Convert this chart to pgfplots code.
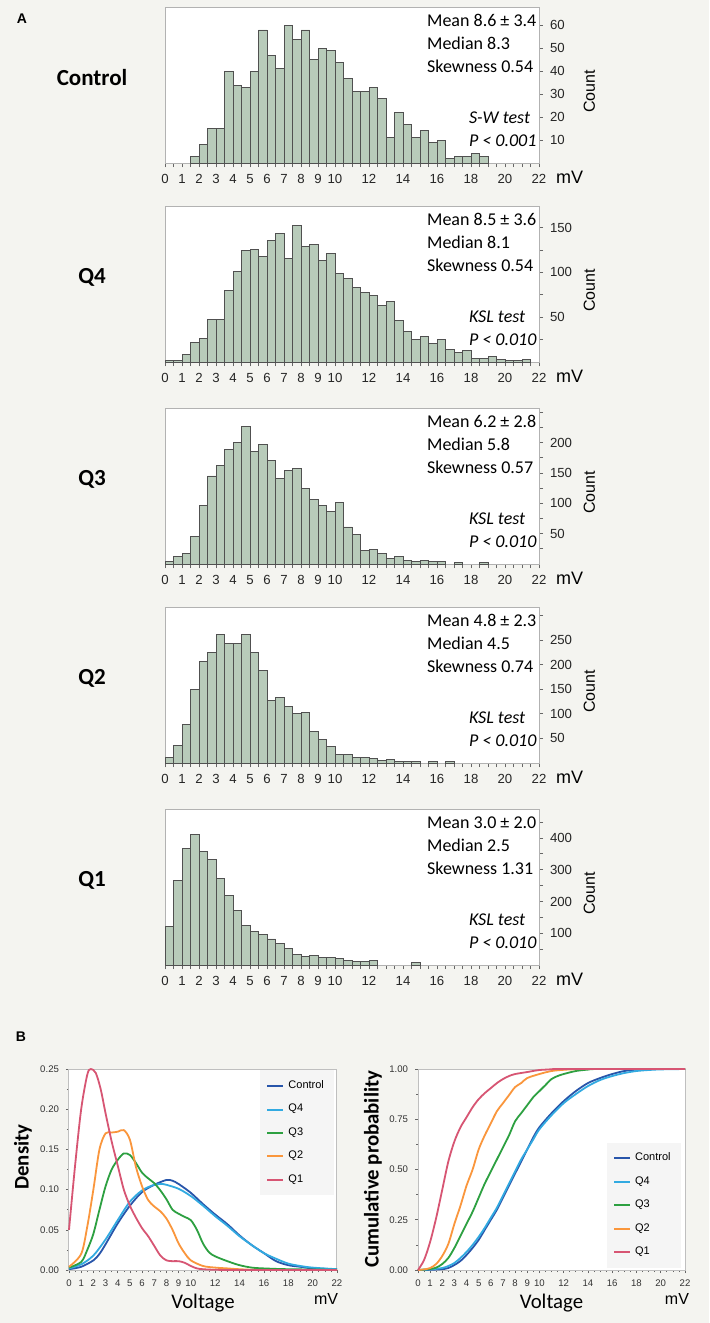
\documentclass[border=0pt]{standalone}
\usepackage{pgfplots}
\pgfplotsset{compat=1.18}
\usepackage{fontspec}
\setmainfont{Carlito}
\newfontfamily\arial{Liberation Sans}
\definecolor{bgcol}{RGB}{244,244,240}
\definecolor{barfill}{RGB}{184,203,186}
\definecolor{baredge}{RGB}{80,80,80}
\definecolor{ctrl}{RGB}{40,85,170}
\definecolor{qfour}{RGB}{50,170,225}
\definecolor{qthree}{RGB}{45,160,65}
\definecolor{qtwo}{RGB}{250,150,60}
\definecolor{qone}{RGB}{215,85,115}
\newcommand{\statfont}{\fontsize{9}{10}\selectfont}
\pgfplotsset{
 hist/.style={
  scale only axis, width=187pt, height=78pt, anchor=south west,
  xmin=0, xmax=22, ymin=0,
  axis background/.style={fill=white},
  axis line style={draw=gray!60, line width=0.5pt},
  xtick={0,1,...,10,12,14,...,22}, minor xtick={0,0.5,...,22},
  xtick pos=bottom, ytick pos=right, yticklabel pos=right,
  tick align=outside, major tick length=2pt, minor tick length=2pt,
  tick style={draw=gray!80!black, line width=0.4pt},
  ticklabel style={font=\arial\fontsize{6.6}{7}\selectfont, text=black!85},
  /pgf/number format/assume math mode=true,
  ybar, bar width=0.5, clip=false,
 },
 bars/.style={fill=barfill, draw=baredge, line width=0.45pt},
 bpanel/.style={
  scale only axis, width=134pt, height=100.5pt, anchor=south west,
  xmin=0, xmax=22, ymin=0, clip=false,
  axis background/.style={fill=white},
  axis line style={draw=gray!50, line width=0.5pt},
  xtick={0,1,...,10,12,14,...,22}, minor xtick={0,0.5,...,22},
  xtick pos=bottom, ytick pos=left,
  tick align=outside, major tick length=1.5pt, minor tick length=1pt,
  tick style={draw=gray!80!black, line width=0.3pt},
  ticklabel style={font=\arial\fontsize{4.8}{5}\selectfont, text=black!80},
  /pgf/number format/assume math mode=true,
  yticklabel style={/pgf/number format/.cd, fixed, fixed zerofill, precision=2},
  legend style={fill=gray!8, draw=none, font=\arial\fontsize{5.5}{6}\selectfont,
    row sep=2.4pt, inner xsep=3pt, inner ysep=3pt},
  legend cell align=left,
  legend image code/.code={\draw[#1, line width=1pt] (0pt,0pt) -- (8pt,0pt);},
  every axis plot/.append style={line width=0.9pt, smooth, mark=none},
 },
}
\begin{document}
\begin{tikzpicture}
\fill[bgcol] (0,0) rectangle (354.5pt,-661.5pt);
\path[use as bounding box] (0,0) rectangle (354.5pt,-661.5pt);
\node[font=\arial\bfseries\fontsize{7}{8}\selectfont] at (11pt,-9.5pt) {A};
\node[font=\arial\bfseries\fontsize{7}{8}\selectfont] at (10.5pt,-518.5pt) {B};

% ---------- Control ----------
\begin{axis}[hist, at={(82.5pt,-81.5pt)}, ymax=68, ytick={10,20,...,60}]
\addplot[bars] coordinates {(1.75,3) (2.25,8) (2.75,15) (3.25,15) (3.75,40) (4.25,34) (4.75,33) (5.25,40) (5.75,58) (6.25,47) (6.75,41) (7.25,60) (7.75,54) (8.25,58) (8.75,45) (9.25,50) (9.75,49) (10.25,44) (10.75,37) (11.25,31) (11.75,31) (12.25,33) (12.75,28) (13.25,11) (13.75,22) (14.25,17) (14.75,11) (15.25,14) (15.75,9) (16.25,10) (16.75,2) (17.25,3) (17.75,3) (18.25,4) (18.75,3)};
\node[anchor=west, font=\statfont] at (axis description cs:0.682,0.914) {Mean 8.6 ± 3.4};
\node[anchor=west, font=\statfont] at (axis description cs:0.682,0.769) {Median 8.3};
\node[anchor=west, font=\statfont] at (axis description cs:0.682,0.622) {Skewness 0.54};
\node[anchor=west, font=\statfont\itshape] at (axis description cs:0.794,0.288) {S-W test};
\node[anchor=west, font=\statfont\itshape] at (axis description cs:0.794,0.141) {P < 0.001};
\node[font=\bfseries\fontsize{11.5}{12}\selectfont] at (axis description cs:-0.195,0.545) {Control};
\node[rotate=90, font=\arial\fontsize{8}{9}\selectfont] at (axis description cs:1.135,0.46) {Count};
\node[anchor=west, font=\arial\fontsize{9}{10}\selectfont] at (axis description cs:1.027,-0.09) {mV};
\end{axis}

% ---------- Q4 ----------
\begin{axis}[hist, at={(82.5pt,-181pt)}, ymax=174, ytick={50,100,150}, minor ytick={25,75,125}]
\addplot[bars] coordinates {(0.25,2) (0.75,2) (1.25,8) (1.75,22) (2.25,26) (2.75,47) (3.25,47) (3.75,80) (4.25,101) (4.75,124) (5.25,125) (5.75,118) (6.25,136) (6.75,143) (7.25,116) (7.75,152) (8.25,129) (8.75,131) (9.25,113) (9.75,121) (10.25,99) (10.75,93) (11.25,83) (11.75,78) (12.25,74) (12.75,63) (13.25,67) (13.75,46) (14.25,34) (14.75,25) (15.25,28) (15.75,21) (16.25,25) (16.75,14) (17.25,11) (17.75,13) (18.25,4) (18.75,4) (19.25,6) (19.75,3) (20.25,2) (20.75,2) (21.25,3)};
\node[anchor=west, font=\statfont] at (axis description cs:0.682,0.914) {Mean 8.5 ± 3.6};
\node[anchor=west, font=\statfont] at (axis description cs:0.682,0.769) {Median 8.1};
\node[anchor=west, font=\statfont] at (axis description cs:0.682,0.622) {Skewness 0.54};
\node[anchor=west, font=\statfont\itshape] at (axis description cs:0.794,0.288) {KSL test};
\node[anchor=west, font=\statfont\itshape] at (axis description cs:0.794,0.141) {P < 0.010};
\node[font=\bfseries\fontsize{11.5}{12}\selectfont] at (axis description cs:-0.195,0.545) {Q4};
\node[rotate=90, font=\arial\fontsize{8}{9}\selectfont] at (axis description cs:1.135,0.46) {Count};
\node[anchor=west, font=\arial\fontsize{9}{10}\selectfont] at (axis description cs:1.027,-0.09) {mV};
\end{axis}

% ---------- Q3 ----------
\begin{axis}[hist, at={(82.5pt,-282pt)}, ymax=257, ytick={50,100,150,200}, minor ytick={25,75,125,175,225,250}]
\addplot[bars] coordinates {(0.25,4) (0.75,13) (1.25,18) (1.75,46) (2.25,96) (2.75,145) (3.25,163) (3.75,188) (4.25,200) (4.75,226) (5.25,186) (5.75,197) (6.25,171) (6.75,141) (7.25,154) (7.75,157) (8.25,124) (8.75,107) (9.25,96) (9.75,86) (10.25,101) (10.75,61) (11.25,49) (11.75,22) (12.25,24) (12.75,18) (13.25,9) (13.75,12) (14.25,6) (14.75,4) (15.25,6) (15.75,4) (16.25,4) (17.25,2) (18.75,2)};
\node[anchor=west, font=\statfont] at (axis description cs:0.682,0.914) {Mean 6.2 ± 2.8};
\node[anchor=west, font=\statfont] at (axis description cs:0.682,0.769) {Median 5.8};
\node[anchor=west, font=\statfont] at (axis description cs:0.682,0.622) {Skewness 0.57};
\node[anchor=west, font=\statfont\itshape] at (axis description cs:0.794,0.288) {KSL test};
\node[anchor=west, font=\statfont\itshape] at (axis description cs:0.794,0.141) {P < 0.010};
\node[font=\bfseries\fontsize{11.5}{12}\selectfont] at (axis description cs:-0.195,0.545) {Q3};
\node[rotate=90, font=\arial\fontsize{8}{9}\selectfont] at (axis description cs:1.135,0.46) {Count};
\node[anchor=west, font=\arial\fontsize{9}{10}\selectfont] at (axis description cs:1.027,-0.09) {mV};
\end{axis}

% ---------- Q2 ----------
\begin{axis}[hist, at={(82.5pt,-381.5pt)}, ymax=317, ytick={50,100,...,250}, minor ytick={300}]
\addplot[bars] coordinates {(0.25,12) (0.75,35) (1.25,79) (1.75,150) (2.25,207) (2.75,224) (3.25,262) (3.75,243) (4.25,243) (4.75,262) (5.25,224) (5.75,188) (6.25,127) (6.75,133) (7.25,114) (7.75,100) (8.25,103) (8.75,64) (9.25,47) (9.75,34) (10.25,18) (10.75,18) (11.25,12) (11.75,11) (12.25,9) (12.75,5) (13.25,7) (13.75,4) (14.25,3) (14.75,3) (15.75,3) (16.75,4)};
\node[anchor=west, font=\statfont] at (axis description cs:0.682,0.914) {Mean 4.8 ± 2.3};
\node[anchor=west, font=\statfont] at (axis description cs:0.682,0.769) {Median 4.5};
\node[anchor=west, font=\statfont] at (axis description cs:0.682,0.622) {Skewness 0.74};
\node[anchor=west, font=\statfont\itshape] at (axis description cs:0.794,0.288) {KSL test};
\node[anchor=west, font=\statfont\itshape] at (axis description cs:0.794,0.141) {P < 0.010};
\node[font=\bfseries\fontsize{11.5}{12}\selectfont] at (axis description cs:-0.195,0.545) {Q2};
\node[rotate=90, font=\arial\fontsize{8}{9}\selectfont] at (axis description cs:1.135,0.46) {Count};
\node[anchor=west, font=\arial\fontsize{9}{10}\selectfont] at (axis description cs:1.027,-0.09) {mV};
\end{axis}

% ---------- Q1 ----------
\begin{axis}[hist, at={(82.5pt,-482.5pt)}, ymax=491, ytick={100,200,300,400}, minor ytick={50,150,250,350,450}]
\addplot[bars] coordinates {(0.25,120) (0.75,265) (1.25,368) (1.75,411) (2.25,358) (2.75,333) (3.25,273) (3.75,218) (4.25,173) (4.75,125) (5.25,107) (5.75,95) (6.25,82) (6.75,69) (7.25,53) (7.75,34) (8.25,27) (8.75,30) (9.25,23) (9.75,23) (10.25,20) (10.75,15) (11.25,10) (11.75,10) (12.25,15) (14.75,9)};
\node[anchor=west, font=\statfont] at (axis description cs:0.682,0.914) {Mean 3.0 ± 2.0};
\node[anchor=west, font=\statfont] at (axis description cs:0.682,0.769) {Median 2.5};
\node[anchor=west, font=\statfont] at (axis description cs:0.682,0.622) {Skewness 1.31};
\node[anchor=west, font=\statfont\itshape] at (axis description cs:0.794,0.288) {KSL test};
\node[anchor=west, font=\statfont\itshape] at (axis description cs:0.794,0.141) {P < 0.010};
\node[font=\bfseries\fontsize{11.5}{12}\selectfont] at (axis description cs:-0.195,0.545) {Q1};
\node[rotate=90, font=\arial\fontsize{8}{9}\selectfont] at (axis description cs:1.135,0.46) {Count};
\node[anchor=west, font=\arial\fontsize{9}{10}\selectfont] at (axis description cs:1.027,-0.09) {mV};
\end{axis}

% ---------- Density ----------
\begin{axis}[bpanel, at={(34.5pt,-635pt)}, ymax=0.25, ytick={0,0.05,...,0.25}, minor y tick num=1,
  legend style={at={(0.99,0.995)}, anchor=north east}]
\addplot[ctrl] coordinates {(0,0.001) (1,0.004) (2,0.012) (2.5,0.02) (3,0.032) (4,0.058) (5,0.08) (6,0.097) (7,0.106) (8,0.112) (8.5,0.111) (9,0.107) (10,0.096) (11,0.082) (12,0.069) (13,0.057) (14,0.043) (15,0.031) (16,0.021) (17,0.011) (18,0.006) (19,0.004) (20,0.002) (22,0.001)};
\addlegendentry{Control}
\addplot[qfour] coordinates {(0,0.002) (1,0.007) (2,0.018) (3,0.038) (4,0.062) (5,0.085) (6,0.099) (7,0.106) (7.7,0.107) (8,0.106) (9,0.101) (10,0.092) (11,0.08) (12,0.067) (13,0.055) (14,0.042) (15,0.031) (16,0.021) (17,0.014) (18,0.008) (19,0.005) (20,0.003) (22,0.001)};
\addlegendentry{Q4}
\addplot[qthree] coordinates {(0,0.003) (1,0.01) (1.5,0.025) (2,0.045) (2.5,0.075) (3,0.104) (3.5,0.125) (4,0.137) (4.5,0.145) (5,0.143) (5.5,0.133) (6,0.121) (6.5,0.114) (7,0.108) (7.5,0.099) (8,0.088) (8.5,0.075) (9,0.07) (9.5,0.066) (10,0.062) (10.5,0.05) (11,0.033) (11.5,0.022) (12,0.017) (13,0.011) (14,0.006) (15,0.003) (16,0.002) (18,0.001) (22,0.0003)};
\addlegendentry{Q3}
\addplot[qtwo] coordinates {(0,0.004) (1,0.02) (1.5,0.054) (2,0.10) (2.5,0.15) (3,0.17) (3.5,0.171) (4,0.172) (4.5,0.174) (5,0.162) (5.5,0.128) (6,0.104) (6.5,0.087) (7,0.079) (7.5,0.073) (8,0.064) (8.5,0.05) (9,0.033) (9.5,0.021) (10,0.012) (11,0.005) (12,0.003) (13,0.002) (14,0.001) (16,0) (22,0)};
\addlegendentry{Q2}
\addplot[qone] coordinates {(0,0.05) (0.5,0.13) (1,0.2) (1.5,0.243) (1.8,0.25) (2.2,0.245) (2.6,0.225) (3,0.195) (3.5,0.16) (4,0.13) (4.5,0.1) (5,0.08) (5.5,0.065) (6,0.052) (6.5,0.042) (7,0.03) (7.5,0.018) (8,0.012) (8.5,0.011) (9,0.011) (9.5,0.009) (10,0.005) (10.5,0.002) (11,0.001) (12,0.0003) (14,0) (22,0)};
\addlegendentry{Q1}
\node[rotate=90, font=\bfseries\fontsize{10.4}{11}\selectfont] at (axis description cs:-0.172,0.562) {Density};
\node[font=\fontsize{10.4}{11}\selectfont] at (axis description cs:0.5,-0.165) {Voltage};
\node[font=\arial\fontsize{8}{9}\selectfont] at (axis description cs:0.959,-0.144) {mV};
\end{axis}

% ---------- Cumulative ----------
\begin{axis}[bpanel, at={(209pt,-635pt)}, width=133.5pt, ymax=1, ytick={0,0.25,0.5,0.75,1}, minor y tick num=1,
  legend style={at={(0.985,0.01)}, anchor=south east}]
\addplot[ctrl] coordinates {(0,0) (1,0.001) (2,0.004) (2.5,0.01) (3,0.025) (3.5,0.045) (4,0.075) (4.5,0.11) (5,0.15) (5.5,0.2) (6,0.25) (6.5,0.3) (7,0.36) (7.5,0.42) (8,0.48) (8.5,0.54) (9,0.6) (9.5,0.66) (10,0.71) (11,0.78) (12,0.84) (13,0.89) (14,0.93) (15,0.955) (16,0.975) (17,0.99) (18,0.997) (19,1) (22,1)};
\addlegendentry{Control}
\addplot[qfour] coordinates {(0,0) (1,0.003) (2,0.01) (2.5,0.02) (3,0.035) (3.5,0.06) (4,0.09) (4.5,0.125) (5,0.165) (5.5,0.21) (6,0.26) (6.5,0.31) (7,0.37) (7.5,0.43) (8,0.49) (8.5,0.55) (9,0.6) (9.5,0.65) (10,0.7) (11,0.77) (12,0.83) (13,0.875) (14,0.915) (15,0.945) (16,0.965) (17,0.98) (18,0.99) (19,0.995) (20,0.998) (22,1)};
\addlegendentry{Q4}
\addplot[qthree] coordinates {(0,0) (1,0.005) (1.5,0.012) (2,0.03) (2.5,0.06) (3,0.11) (3.5,0.17) (4,0.23) (4.5,0.29) (5,0.36) (5.5,0.43) (6,0.49) (6.5,0.55) (7,0.61) (7.5,0.67) (8,0.74) (8.5,0.78) (9,0.82) (9.5,0.86) (10,0.89) (10.5,0.92) (11,0.95) (11.5,0.965) (12,0.975) (13,0.99) (14,0.997) (15,1) (22,1)};
\addlegendentry{Q3}
\addplot[qtwo] coordinates {(0,0) (0.5,0.003) (1,0.01) (1.5,0.03) (2,0.07) (2.5,0.13) (3,0.23) (3.5,0.32) (4,0.42) (4.5,0.5) (5,0.6) (5.5,0.67) (6,0.73) (6.5,0.79) (7,0.83) (7.5,0.87) (8,0.91) (8.5,0.93) (9,0.955) (10,0.975) (11,0.99) (12,0.996) (13,0.999) (14,1) (22,1)};
\addlegendentry{Q2}
\addplot[qone] coordinates {(0,0) (0.5,0.05) (1,0.14) (1.5,0.26) (2,0.4) (2.5,0.54) (3,0.64) (3.5,0.71) (4,0.76) (4.5,0.81) (5,0.85) (5.5,0.88) (6,0.905) (6.5,0.93) (7,0.95) (7.5,0.965) (8,0.975) (9,0.985) (10,0.995) (11,0.998) (12,1) (22,1)};
\addlegendentry{Q1}
\node[rotate=90, font=\bfseries\fontsize{10.4}{11}\selectfont] at (axis description cs:-0.169,0.502) {Cumulative probability};
\node[font=\fontsize{10.4}{11}\selectfont] at (axis description cs:0.5,-0.165) {Voltage};
\node[font=\arial\fontsize{8}{9}\selectfont] at (axis description cs:0.97,-0.144) {mV};
\end{axis}
\end{tikzpicture}
\end{document}
